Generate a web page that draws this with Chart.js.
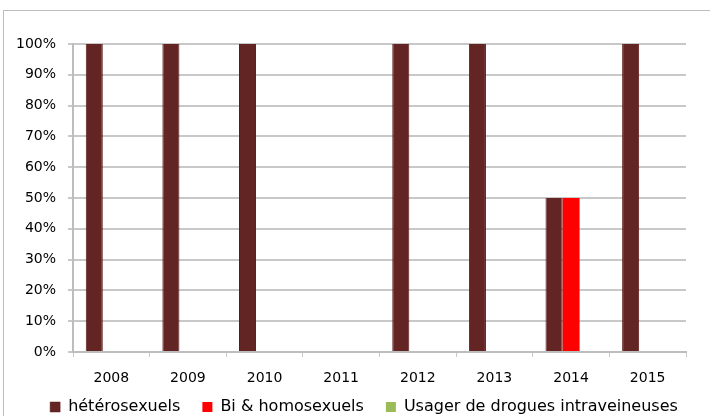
<!DOCTYPE html>
<html>
<head>
<meta charset="utf-8">
<script src="https://cdn.jsdelivr.net/npm/chart.js@4"></script>
<style>
  body { margin: 0; background: #fff; }
  #cadre { position: absolute; left: 3px; top: 10px; width: 720px; height: 420px; border: 1px solid #bdbdbd; box-sizing: border-box; }
  #wrap { position: absolute; left: 0; top: 0; width: 710px; height: 416px; }
</style>
</head>
<body>
<div id="cadre"></div>
<div id="wrap"><canvas id="myChart" width="710" height="416"></canvas></div>
<script>
var annees = ['2008', '2009', '2010', '2011', '2012', '2013', '2014', '2015'];
var hetero = [100, 100, 100, 0, 100, 100, 50, 100]; // hétérosexuels
var bihomo = [0, 0, 0, 0, 0, 0, 50, 0]; // Bi & homosexuels
var drogues = [0, 0, 0, 0, 0, 0, 0, 0]; // usagers de drogues
var nomsSeries = ['hétérosexuels', 'Bi & homosexuels', 'Usager de drogues intraveineuses'];
var couleurs = ['#632523', '#ff0000', '#9bbb59'];

var police = { family: 'DejaVu Sans', size: 14 };

// légende moins haute et un peu décalée, comme dans l'original
var legendeBasse = {
    id: 'legendeBasse',
    afterInit: function (chart) {
        var leg = chart.legend;
        var f = leg.fit;
        var d = leg.draw;
        leg.fit = function () {
            f.call(this);
            this.height = 30;
        };
        leg.draw = function () {
            var t = this.top, l = this.left, r = this.right;
            this.top = 377;
            this.left = l + 21;
            this.right = r + 21;
            d.call(this);
            this.top = t;
            this.left = l;
            this.right = r;
        };
    }
};

var myChart = new Chart(document.getElementById('myChart'), {
    type: 'bar',
    data: {
        labels: annees,
        datasets: [
            { label: nomsSeries[0], data: hetero, backgroundColor: couleurs[0], borderColor: '#5a1a18', borderWidth: { left: 1, right: 1 } },
            { label: nomsSeries[1], data: bihomo, backgroundColor: couleurs[1] },
            { label: nomsSeries[2], data: drogues, backgroundColor: couleurs[2] }
        ]
    },
    plugins: [legendeBasse],
    options: {
        responsive: false,
        animation: false,
        categoryPercentage: 0.667,
        barPercentage: 1,
        layout: { padding: { left: 0, right: 24, top: 44, bottom: 0 } },
        plugins: {
            tooltip: { enabled: false },
            legend: {
                position: 'bottom',
                labels: {
                    color: '#000',
                    font: { family: 'DejaVu Sans', size: 16 },
                    boxWidth: 10,
                    boxHeight: 10,
                    padding: 22
                }
            }
        },
        scales: {
            x: {
                afterFit: function (s) { s.height = 34; },
                grid: { offset: true, drawOnChartArea: false, tickLength: 5, color: '#c8c8c8' },
                border: { color: '#bdbdbd', width: 2 },
                ticks: { color: '#000', font: police, padding: 13 }
            },
            y: {
                min: 0,
                max: 100,
                afterFit: function (s) { s.width = 73; },
                grid: { color: '#c8c8c8', lineWidth: 2, tickLength: 5 },
                border: { color: '#bdbdbd', width: 2 },
                ticks: {
                    stepSize: 10,
                    color: '#000',
                    font: police,
                    padding: 12,
                    callback: function (v) { return v + '%'; }
                }
            }
        }
    }
});
</script>
</body>
</html>
